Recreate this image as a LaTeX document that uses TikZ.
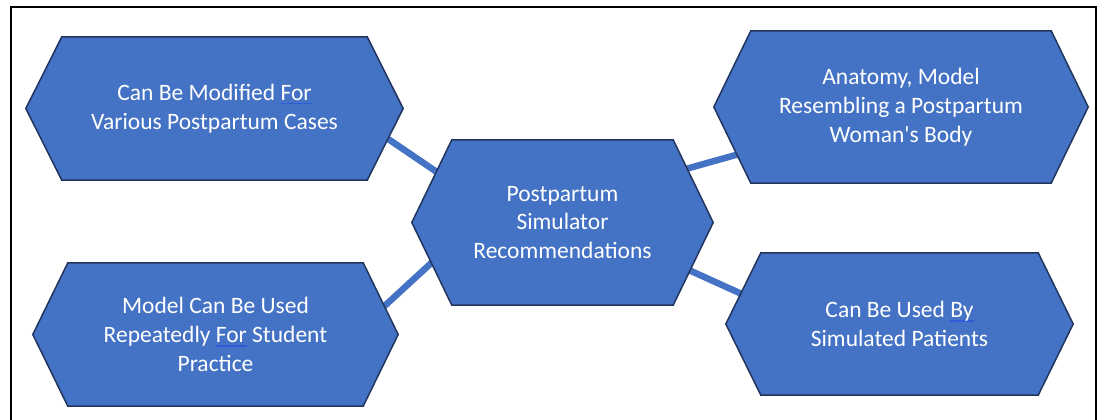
\documentclass[tikz,border=0pt]{standalone}
\usepackage{fontspec}
\setmainfont{Carlito}
\usetikzlibrary{backgrounds}
\definecolor{hexblue}{HTML}{4472C4}
\definecolor{hexedge}{HTML}{22355E}
\definecolor{spellblue}{HTML}{2E5BD8}
\newcommand\spellmark[1]{\setbox0\hbox{#1}\rlap{\color{spellblue}\rule[-4pt]{\wd0}{1.4pt}}#1}
\newcommand\hexpath[2]{(#1.north west) -- (#1.north east) -- ([xshift=#2]#1.east) -- (#1.south east) -- (#1.south west) -- ([xshift=-#2]#1.west) -- cycle}
\tikzset{
  hexnode/.style={rectangle, inner sep=0pt, align=center, text=white,
    font=\fontsize{23.5}{28.8}\selectfont},
  hexshape/.style={fill=hexblue, draw=hexedge, line width=1.5pt, line join=miter},
  link/.style={draw=hexblue, line width=6.5pt},
  frame/.style={draw=black, line width=2pt}
}
\begin{document}
\begin{tikzpicture}[x=1pt,y=-1pt]
\useasboundingbox (0,0) rectangle (1097,420);
\node[hexnode, minimum width=305pt, minimum height=143pt] (A) at (214.5,108.5)
  {Can Be Modified \spellmark{For}\\Various Postpartum Cases};
\node[hexnode, minimum width=300pt, minimum height=152pt] (B) at (901,107)
  {Anatomy, Model\\Resembling a Postpartum\\Woman\textquotesingle s Body};
\node[hexnode, minimum width=295pt, minimum height=143pt] (C) at (215.5,334.5)
  {Model Can Be Used\\Repeatedly \spellmark{For} Student\\Practice};
\node[hexnode, minimum width=277pt, minimum height=142pt] (D) at (899.5,324)
  {Can Be Used \spellmark{By}\\Simulated Patients};
\node[hexnode, minimum width=221pt, minimum height=165pt] (E) at (562.5,222.5)
  {Postpartum\\Simulator\\Recommendations};
\begin{scope}[on background layer]
  \draw[link] ([shift={(160.5,21.5)}]A.center) -- ([shift={(-112.5,-41.5)}]E.center);
  \draw[link] ([shift={(-122.5,32.5)}]E.center) -- ([shift={(162.5,-22.5)}]C.center);
  \draw[link] ([shift={(112.5,-50.5)}]E.center) -- ([shift={(-151,44)}]B.center);
  \draw[link] ([shift={(117.5,43.5)}]E.center) -- ([shift={(-144.5,-24)}]D.center);
  \draw[hexshape] \hexpath{A}{36pt};
  \draw[hexshape] \hexpath{B}{37pt};
  \draw[hexshape] \hexpath{C}{35pt};
  \draw[hexshape] \hexpath{D}{35pt};
  \draw[hexshape] \hexpath{E}{40pt};
  \coordinate (f1) at (11,420);
  \coordinate (f2) at (11,7);
  \coordinate (f3) at (1096,7);
  \coordinate (f4) at (1096,420);
  \draw[frame] (f1) -- (f2) -- (f3) -- (f4);
\end{scope}
\end{tikzpicture}
\end{document}
